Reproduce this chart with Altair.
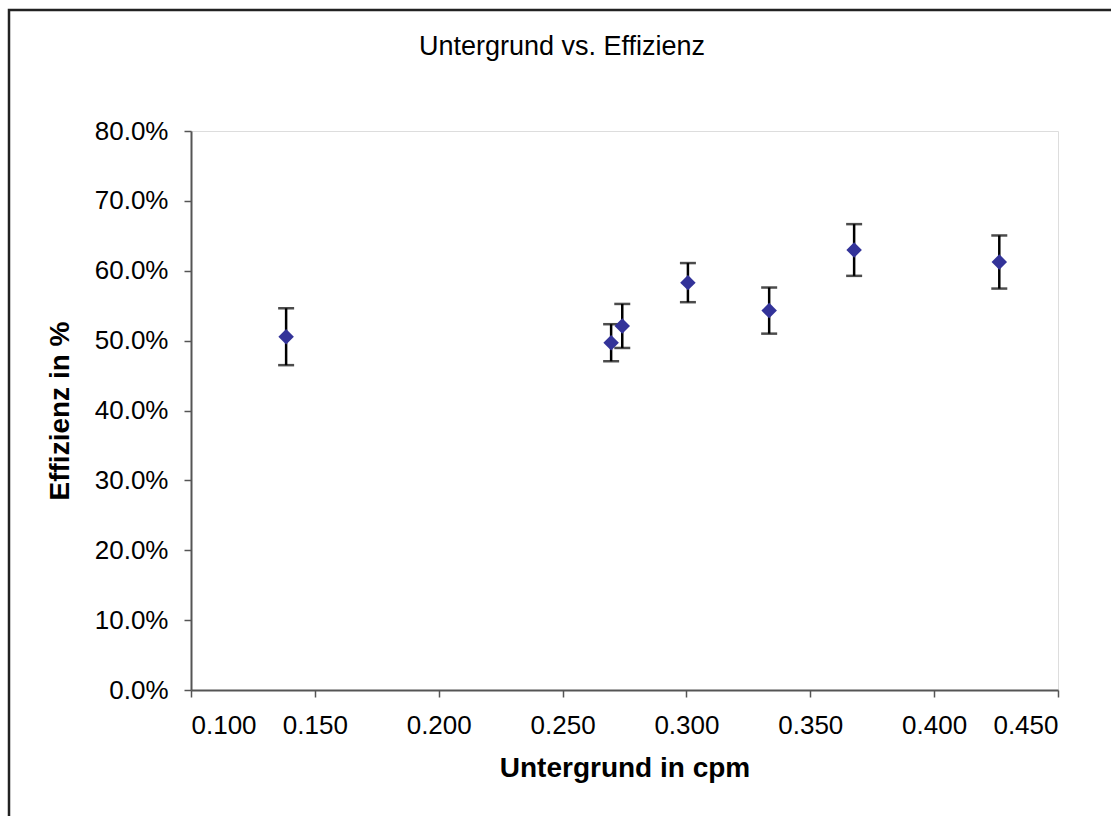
import altair as alt
import pandas as pd

untergrund = [0.1384, 0.2696, 0.2741, 0.3006, 0.3334, 0.3677, 0.4263]
effizienz = [0.5056, 0.4970, 0.5210, 0.5830, 0.5430, 0.6297, 0.6125]
fehler = [0.0407, 0.0265, 0.0315, 0.0280, 0.0330, 0.0370, 0.0380]

x_ticks = [0.10, 0.15, 0.20, 0.25, 0.30, 0.35, 0.40, 0.45]
y_ticks = [0.0, 0.1, 0.2, 0.3, 0.4, 0.5, 0.6, 0.7, 0.8]

chart_title = "Untergrund vs. Effizienz"

df = pd.DataFrame({"x": untergrund, "y": effizienz, "e": fehler})
df["lo"] = df["y"] - df["e"]
df["hi"] = df["y"] + df["e"]

FONT = "Liberation Sans"

xs = alt.Scale(domain=[0.1, 0.45], nice=False, zero=False)
ys = alt.Scale(domain=[0.0, 0.8], nice=False)

xax = alt.Axis(values=x_ticks, format=".3f", title="Untergrund in cpm",
               grid=False, domainColor="#555555", domainWidth=2,
               tickColor="#555555", tickWidth=1.5, tickSize=7,
               labelFont=FONT, labelFontSize=26, labelColor="#000000",
               labelPadding=15, titleFont=FONT, titleFontSize=28,
               titleFontWeight="bold", titleColor="#000000", titlePadding=16)
yax = alt.Axis(values=y_ticks, format=".1%", title="Effizienz in %",
               grid=False, domainColor="#555555", domainWidth=2,
               tickColor="#555555", tickWidth=1.5, tickSize=7,
               labelFont=FONT, labelFontSize=26, labelColor="#000000",
               labelPadding=16, titleFont=FONT, titleFontSize=28,
               titleFontWeight="bold", titleColor="#000000", titlePadding=20)

base = alt.Chart(df)

bars = base.mark_rule(color="#000000", strokeWidth=2.5).encode(
    x=alt.X("x:Q", scale=xs, axis=xax),
    y=alt.Y("lo:Q", scale=ys, axis=yax),
    y2="hi:Q",
)
cap_hi = base.mark_tick(color="#000000", orient="horizontal", size=16, thickness=2.5).encode(
    x=alt.X("x:Q", scale=xs), y=alt.Y("hi:Q", scale=ys))
cap_lo = base.mark_tick(color="#000000", orient="horizontal", size=16, thickness=2.5).encode(
    x=alt.X("x:Q", scale=xs), y=alt.Y("lo:Q", scale=ys))
pts = base.mark_point(shape="diamond", filled=True, color="#333399", size=240, opacity=1).encode(
    x=alt.X("x:Q", scale=xs), y=alt.Y("y:Q", scale=ys))

one = pd.DataFrame({"t": [chart_title]})
frame = alt.Chart(one).mark_rect(
    fill=None, stroke="#222222", strokeWidth=2.5, clip=False).encode(
    x=alt.value(-182), x2=alt.value(960), y=alt.value(-121), y2=alt.value(700))
title_txt = alt.Chart(one).mark_text(
    font=FONT, fontSize=27, color="#000000", align="center", baseline="middle").encode(
    text="t:N", x=alt.value(371), y=alt.value(-84))

chart = alt.layer(frame, title_txt, bars, cap_hi, cap_lo, pts).properties(
    width=867, height=559,
    padding={"left": 191, "top": 131, "right": 53, "bottom": 126},
    autosize=alt.AutoSizeParams(type="none"),
).configure_view(stroke="#999999", strokeWidth=2).configure(background="#ffffff")

chart.save("out.html", embed_options={"renderer": "svg", "actions": False})
